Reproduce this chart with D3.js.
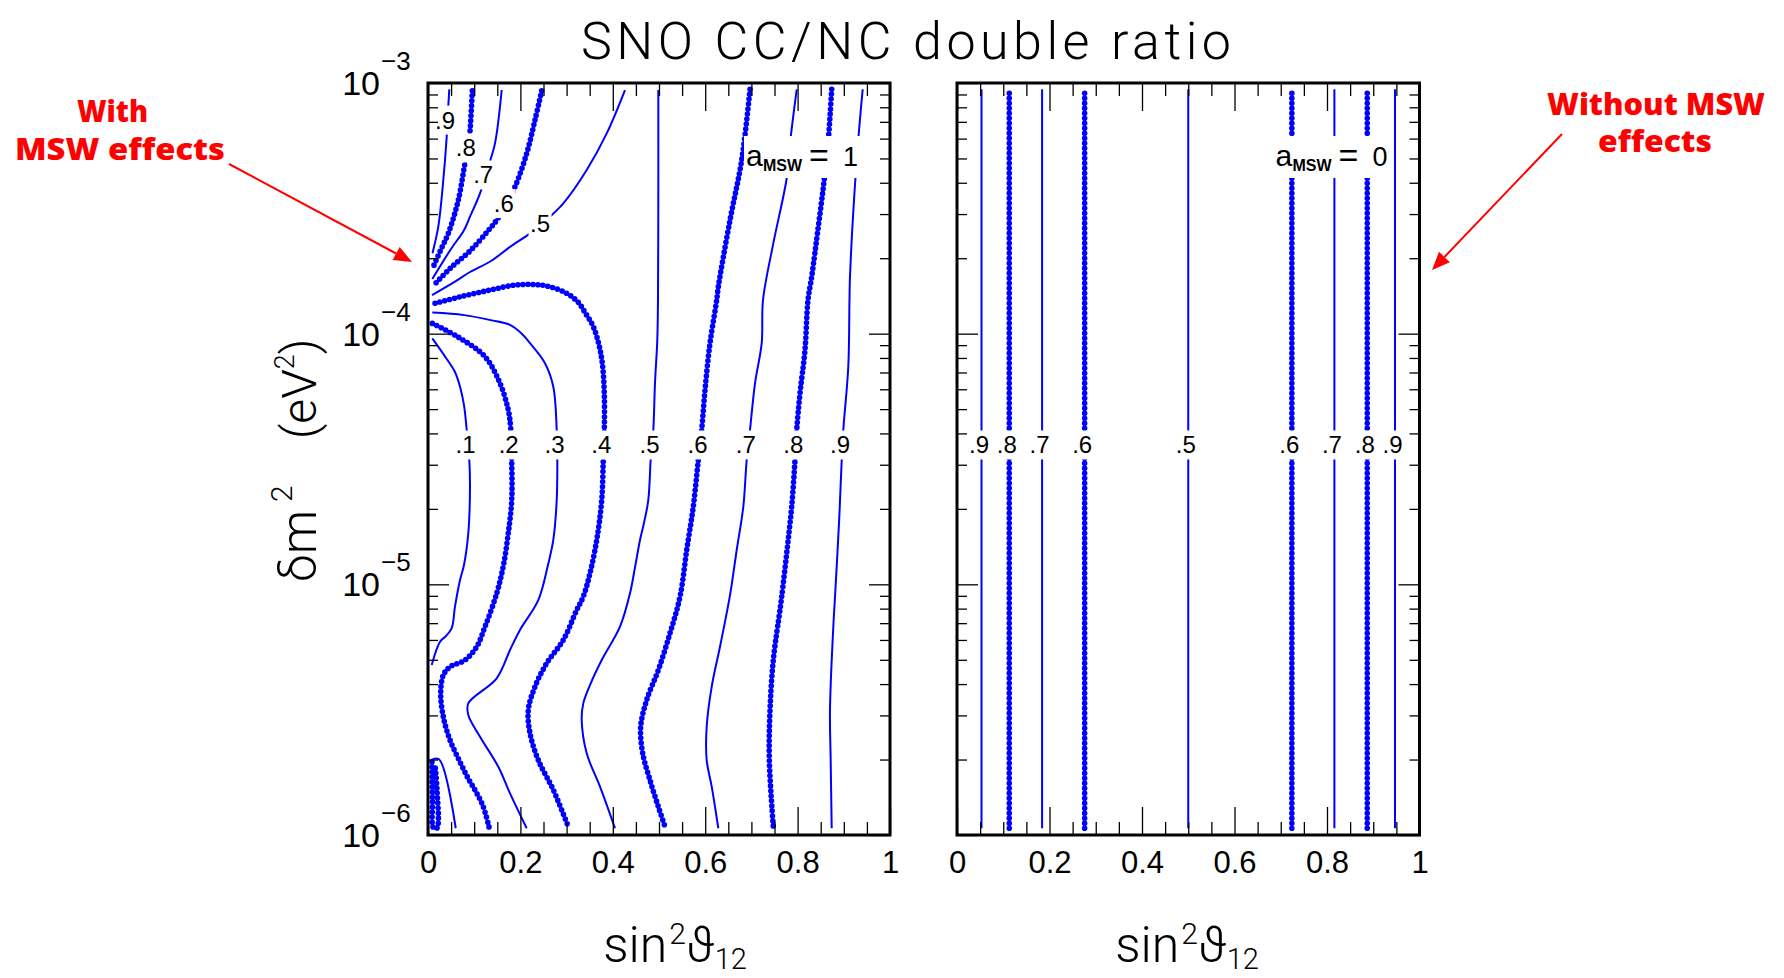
<!DOCTYPE html>
<html><head><meta charset="utf-8">
<script src="https://cdn.jsdelivr.net/npm/d3@7"></script>
<style>body{margin:0;background:#fff}svg{display:block}</style>
</head><body>
<svg id="chart" width="1784" height="978"></svg>
<script>
// ---------------- DATA (sin^2 theta12, log10 dm^2) ----------------
const c09fan = [[0.0461,-3.025],[0.0422,-3.148],[0.0405,-3.214],[0.0318,-3.414],[0.0223,-3.573],[0.0097,-3.679]];
const c08fan = [[0.0959,-3.031],[0.0909,-3.194],[0.0872,-3.261],[0.0801,-3.320],[0.0656,-3.467],[0.0439,-3.600],[0.0275,-3.666],[0.0115,-3.733]];
const c07fan = [[0.1595,-3.028],[0.1450,-3.241],[0.1305,-3.334],[0.1126,-3.440],[0.0909,-3.533],[0.0779,-3.587],[0.0498,-3.662],[0.0093,-3.782]];
const c06fan = [[0.2461,-3.031],[0.2316,-3.148],[0.2136,-3.281],[0.1883,-3.414],[0.1667,-3.491],[0.1487,-3.547],[0.1284,-3.593],[0.0909,-3.670],[0.0487,-3.738],[0.0130,-3.806]];
const c05fan = [[0.4264,-3.028],[0.3868,-3.201],[0.3435,-3.347],[0.2929,-3.480],[0.2532,-3.551],[0.2208,-3.600],[0.1775,-3.654],[0.1364,-3.710],[0.0909,-3.754],[0.0584,-3.792],[0.0087,-3.846]];
const c04 = [[0.0152,-3.879],[0.0693,-3.853],[0.1342,-3.826],[0.1883,-3.806],[0.2316,-3.804],[0.2641,-3.813],[0.3002,-3.839],[0.3247,-3.874],[0.3420,-3.922],[0.3578,-3.972],[0.3701,-4.045],[0.3777,-4.125],[0.3816,-4.238],[0.3816,-4.384],[0.3794,-4.504],[0.3760,-4.664],[0.3652,-4.823],[0.3506,-4.956],[0.3361,-5.049],[0.3219,-5.102],[0.2929,-5.222],[0.2569,-5.315],[0.2316,-5.408],[0.2171,-5.501],[0.2208,-5.594],[0.2387,-5.701],[0.2712,-5.820],[0.3037,-5.967]];
const c03 = [[0.0093,-3.916],[0.0779,-3.926],[0.1357,-3.946],[0.1775,-3.965],[0.2035,-4.001],[0.2208,-4.038],[0.2532,-4.118],[0.2712,-4.212],[0.2786,-4.384],[0.2799,-4.504],[0.2786,-4.664],[0.2712,-4.823],[0.2597,-4.923],[0.2387,-5.063],[0.1991,-5.182],[0.1775,-5.262],[0.1487,-5.375],[0.0872,-5.475],[0.0872,-5.521],[0.1126,-5.608],[0.1522,-5.728],[0.1775,-5.834],[0.2136,-5.973]];
const c02 = [[0.0093,-3.959],[0.0649,-4.013],[0.1234,-4.092],[0.1558,-4.198],[0.1738,-4.305],[0.1790,-4.378],[0.1812,-4.511],[0.1812,-4.664],[0.1738,-4.796],[0.1634,-4.923],[0.1487,-5.036],[0.1234,-5.169],[0.1054,-5.249],[0.0801,-5.302],[0.0476,-5.329],[0.0331,-5.362],[0.0275,-5.435],[0.0331,-5.528],[0.0476,-5.621],[0.0693,-5.709],[0.0866,-5.773],[0.1039,-5.828],[0.1190,-5.884],[0.1320,-5.968]];
const c02b = [[0.0087,-5.709],[0.0097,-5.860],[0.0119,-5.972],[0.0195,-5.972],[0.0195,-5.820],[0.0152,-5.721]];
const c01 = [[0.0093,-4.019],[0.0390,-4.097],[0.0584,-4.153],[0.0693,-4.212],[0.0779,-4.285],[0.0838,-4.384],[0.0894,-4.504],[0.0909,-4.611],[0.0872,-4.796],[0.0779,-4.923],[0.0693,-4.983],[0.0584,-5.089],[0.0513,-5.175],[0.0390,-5.206],[0.0260,-5.229],[0.0080,-5.322]];
const c01b = [[0.0058,-5.701],[0.0238,-5.698],[0.0600,-5.973]];
const c05 = [[0.4985,-3.028],[0.4985,-3.467],[0.4978,-3.866],[0.4963,-4.025],[0.4913,-4.198],[0.4877,-4.384],[0.4820,-4.504],[0.4768,-4.664],[0.4665,-4.763],[0.4589,-4.823],[0.4470,-4.943],[0.4372,-5.036],[0.4156,-5.169],[0.3760,-5.302],[0.3506,-5.402],[0.3361,-5.475],[0.3327,-5.541],[0.3435,-5.674],[0.3723,-5.807],[0.4048,-5.973]];
const c06 = [[0.6970,-3.025],[0.6790,-3.307],[0.6537,-3.547],[0.6284,-3.813],[0.6249,-3.866],[0.6104,-4.038],[0.5996,-4.225],[0.5924,-4.384],[0.5851,-4.504],[0.5742,-4.690],[0.5600,-4.863],[0.5455,-5.049],[0.5238,-5.195],[0.4985,-5.342],[0.4734,-5.461],[0.4604,-5.568],[0.4647,-5.674],[0.4805,-5.781],[0.4985,-5.887],[0.5130,-5.967]];
const c07 = [[0.7981,-3.025],[0.7835,-3.241],[0.7764,-3.380],[0.7474,-3.640],[0.7251,-3.866],[0.7223,-4.038],[0.7078,-4.198],[0.6970,-4.384],[0.6898,-4.504],[0.6825,-4.690],[0.6682,-4.863],[0.6537,-5.043],[0.6320,-5.249],[0.6141,-5.408],[0.6032,-5.568],[0.6032,-5.701],[0.6141,-5.807],[0.6284,-5.973]];
const c08 = [[0.8738,-3.025],[0.8665,-3.227],[0.8571,-3.394],[0.8448,-3.573],[0.8305,-3.773],[0.8225,-3.866],[0.8160,-4.065],[0.8052,-4.238],[0.7981,-4.384],[0.7944,-4.504],[0.7872,-4.690],[0.7764,-4.876],[0.7656,-5.049],[0.7619,-5.102],[0.7474,-5.302],[0.7403,-5.501],[0.7388,-5.701],[0.7474,-5.967]];
const c09 = [[0.9409,-3.025],[0.9279,-3.307],[0.9134,-3.773],[0.9123,-3.866],[0.9097,-4.132],[0.8989,-4.384],[0.8955,-4.504],[0.8903,-4.730],[0.8810,-5.049],[0.8773,-5.169],[0.8701,-5.501],[0.8716,-5.701],[0.8738,-5.973]];

// contour pieces (level, points), and which pieces carry labels
const leftContours = [
  {level:0.9, pts:c09fan, fanLabelL:-3.148},
  {level:0.8, pts:c08fan, fanLabelL:-3.259},
  {level:0.7, pts:c07fan, fanLabelL:-3.367},
  {level:0.6, pts:c06fan, fanLabelL:-3.481},
  {level:0.5, pts:c05fan, fanLabelL:-3.559},
  {level:0.4, pts:c04, row:true},
  {level:0.3, pts:c03, row:true},
  {level:0.2, pts:c02, row:true},
  {level:0.2, pts:c02b},
  {level:0.1, pts:c01, row:true},
  {level:0.1, pts:c01b},
  {level:0.5, pts:c05, row:true},
  {level:0.6, pts:c06, row:true},
  {level:0.7, pts:c07, row:true},
  {level:0.8, pts:c08, row:true},
  {level:0.9, pts:c09, row:true}
];

// no-MSW panel: vertical contours
const rightLevels = [0.9, 0.8, 0.7, 0.6, 0.5, 0.6, 0.7, 0.8, 0.9];
const rightS      = [0.053, 0.113, 0.184, 0.276, 0.500, 0.724, 0.816, 0.887, 0.947];
const gridL = [-5.973, -3.025];
const rowLabelL = -4.444;

// axes
const xMajorTicks = [0, 0.2, 0.4, 0.6, 0.8, 1];
const xTickLabels = ["0", "0.2", "0.4", "0.6", "0.8", "1"];
const xMinorTicks = [0.05,0.1,0.15,0.25,0.3,0.35,0.45,0.5,0.55,0.65,0.7,0.75,0.85,0.9,0.95];
const yMajorTicks = [1e-6, 1e-5, 1e-4, 1e-3];
const yExponents  = ["\u22126", "\u22125", "\u22124", "\u22123"];
const yMinorMult  = [2,3,4,5,6,7,8,9];

// ---------------- DRAW ----------------
const svg = d3.select("#chart");
const TOP = 83, BOT = 835;
const xL = d3.scaleLinear().domain([0,1]).range([428, 890]);
const xR = d3.scaleLinear().domain([0,1]).range([957, 1419.5]);
const y  = d3.scaleLog().domain([1e-6, 1e-3]).range([BOT, TOP]);
const yMinorTicks = yMajorTicks.slice(0,3).flatMap(d => yMinorMult.map(m => d*m));

const NUMFONT = "'Liberation Sans', Arial, sans-serif";
const LIGHT = "Roboto, 'Liberation Sans', sans-serif";

function makePanel(xs, id) {
  const [x0, x1] = xs.range();
  svg.append("clipPath").attr("id", "clip"+id).append("rect")
    .attr("x", x0).attr("y", TOP).attr("width", x1-x0).attr("height", BOT-TOP);
  const g = svg.append("g");
  return {
    xs, x0, x1,
    lines: g.append("g").attr("clip-path", `url(#clip${id})`),
    bg: g.append("g"),
    axes: g.append("g"),
    lab: g.append("g")
  };
}

function styleLine(sel, level) {
  const thick = Math.round(level*10) % 2 === 0;
  sel.attr("fill", "none").attr("stroke", "#0000ff").attr("stroke-linejoin", "round");
  if (thick) sel.attr("stroke-width", 5.6).attr("stroke-dasharray", "0 5").attr("stroke-linecap", "round");
  else sel.attr("stroke-width", 2);
}

function lineGen(xs) {
  return d3.line().x(d => xs(d[0])).y(d => y(Math.pow(10, d[1]))).curve(d3.curveCatmullRom.alpha(0.5));
}

function sAtL(pts, L) {
  for (let i = 0; i < pts.length-1; i++) {
    const a = pts[i], b = pts[i+1];
    if ((a[1]-L)*(b[1]-L) <= 0 && a[1] !== b[1]) {
      const t = (L - a[1])/(b[1]-a[1]);
      return a[0] + t*(b[0]-a[0]);
    }
  }
  return null;
}

function addLabel(p, txt, cx, cy) {
  const t = p.lab.append("text").attr("x", cx).attr("y", cy + 8.5)
    .attr("text-anchor", "middle").attr("font-family", NUMFONT).attr("font-size", 24)
    .attr("fill", "#000").text(txt);
  const b = t.node().getBBox();
  p.bg.append("rect").attr("x", b.x-1.5).attr("y", b.y-1).attr("width", b.width+3).attr("height", b.height+2).attr("fill", "#fff");
}

function drawAxes(p) {
  const xs = p.xs, a = p.axes;
  const mk = (axis, tr) => a.append("g").attr("transform", tr).call(axis)
    .call(s => s.select(".domain").remove())
    .call(s => s.selectAll(".tick line").attr("stroke", "#000").attr("stroke-width", 1.3))
    .call(s => s.selectAll(".tick text").remove());
  mk(d3.axisBottom(xs).tickValues(xMinorTicks).tickSize(-13), `translate(0,${BOT})`);
  mk(d3.axisBottom(xs).tickValues(xMajorTicks).tickSize(-28), `translate(0,${BOT})`);
  mk(d3.axisTop(xs).tickValues(xMinorTicks).tickSize(-13), `translate(0,${TOP})`);
  mk(d3.axisTop(xs).tickValues(xMajorTicks).tickSize(-28), `translate(0,${TOP})`);
  mk(d3.axisLeft(y).tickValues(yMinorTicks).tickSize(-10), `translate(${p.x0},0)`);
  mk(d3.axisLeft(y).tickValues(yMajorTicks).tickSize(-21), `translate(${p.x0},0)`);
  mk(d3.axisRight(y).tickValues(yMinorTicks).tickSize(-10), `translate(${p.x1},0)`);
  mk(d3.axisRight(y).tickValues(yMajorTicks).tickSize(-21), `translate(${p.x1},0)`);
  a.append("rect").attr("x", p.x0).attr("y", TOP).attr("width", p.x1-p.x0).attr("height", BOT-TOP)
    .attr("fill", "none").attr("stroke", "#000").attr("stroke-width", 3);
  // x tick labels
  const lab = a.append("g").attr("transform", `translate(0,${BOT})`)
    .call(d3.axisBottom(xs).tickValues(xMajorTicks).tickSize(0).tickPadding(16).tickFormat((d,i) => xTickLabels[i]));
  lab.select(".domain").remove();
  lab.selectAll("text").attr("font-family", NUMFONT).attr("font-size", 31).attr("fill", "#000");
}

function amswLabel(p, digit) {
  const R = p.x1, base = 166;
  const g = p.lab.append("g").attr("font-family", NUMFONT).attr("fill", "#000");
  g.append("text").attr("x", R-144).attr("y", base).attr("font-size", 30).text("a");
  g.append("text").attr("x", R-127).attr("y", base+5).attr("font-size", 16).attr("font-weight", "bold").text("MSW");
  g.append("text").attr("x", R-81).attr("y", base+1).attr("font-size", 34).text("=");
  g.append("text").attr("x", R-32).attr("y", base).attr("text-anchor", "end").attr("font-size", 27).text(digit);
  const b = g.node().getBBox();
  p.bg.append("rect").attr("x", b.x-2).attr("y", b.y).attr("width", b.width+4).attr("height", b.height+4).attr("fill", "#fff");
}

const fmtLevel = v => v.toFixed(1).slice(1);

// ---- left panel (with MSW)
const PL = makePanel(xL, "L");
const genL = lineGen(xL);
leftContours.forEach(c => {
  PL.lines.append("path").attr("d", genL(c.pts)).call(styleLine, c.level);
  if (c.row) {
    const s = sAtL(c.pts, rowLabelL);
    addLabel(PL, fmtLevel(c.level), xL(s) - 2.5, y(Math.pow(10, rowLabelL)));
  }
  if (c.fanLabelL !== undefined) {
    const s = sAtL(c.pts, c.fanLabelL);
    addLabel(PL, fmtLevel(c.level), xL(s) - 2.5, y(Math.pow(10, c.fanLabelL)));
  }
});
amswLabel(PL, "1");
drawAxes(PL);

// ---- right panel (without MSW)
const PR = makePanel(xR, "R");
const genR = lineGen(xR);
rightS.forEach((s, i) => {
  PR.lines.append("path").attr("d", genR([[s, gridL[0]], [s, gridL[1]]])).call(styleLine, rightLevels[i]);
  addLabel(PR, fmtLevel(rightLevels[i]), xR(s) - 2.5, y(Math.pow(10, rowLabelL)));
});
amswLabel(PR, "0");
drawAxes(PR);

// ---- y tick labels (left panel only)
const yl = svg.append("g").attr("font-family", NUMFONT).attr("fill", "#000");
yMajorTicks.forEach((v, i) => {
  yl.append("text").attr("x", 380).attr("y", y(v) + 12).attr("text-anchor", "end").attr("font-size", 34).text("10");
  yl.append("text").attr("x", 381).attr("y", y(v) - 13).attr("font-size", 26).text(yExponents[i]);
});

// ---- titles
svg.append("text").attr("x", 581).attr("y", 59).attr("font-family", LIGHT).attr("font-weight", 300)
  .attr("font-size", 52).attr("textLength", 650).attr("lengthAdjust", "spacing").attr("fill", "#000")
  .text("SNO CC/NC double ratio");

function xTitle(cx) {
  const t = svg.append("text").attr("x", cx).attr("y", 962).attr("text-anchor", "middle")
    .attr("font-family", LIGHT).attr("font-weight", 300).attr("fill", "#000").attr("font-size", 50);
  t.append("tspan").text("sin");
  t.append("tspan").attr("font-size", 30).attr("dy", -18).attr("dx", 2).text("2");
  t.append("tspan").attr("dy", 18).text("\u03D1");
  t.append("tspan").attr("font-size", 29).attr("dy", 7).text("12");
}
xTitle(675);
xTitle(1187);

// y title (rotated)
const yt = svg.append("g").attr("transform", "translate(316,582) rotate(-90)")
  .attr("font-family", LIGHT).attr("font-weight", 300).attr("fill", "#000");
yt.append("text").attr("x", 0).attr("y", 0).attr("font-size", 50).text("\u03B4m");
yt.append("text").attr("x", 80).attr("y", -24).attr("font-size", 30).text("2");
const yt2 = yt.append("text").attr("x", 143).attr("y", 0).attr("font-size", 48);
yt2.append("tspan").text("(eV");
yt2.append("tspan").attr("font-size", 27).attr("dy", -22).text("2");
yt2.append("tspan").attr("dy", 22).text(")");

// ---- red annotations
const RED = "#ff0000";
const AFONT = "'Open Sans', 'Liberation Sans', sans-serif";
function redText(txt, cx, by, len) {
  svg.append("text").attr("x", cx - len/2).attr("y", by).attr("font-family", AFONT).attr("font-weight", 800)
    .attr("font-size", 30).attr("fill", RED).attr("textLength", len).attr("lengthAdjust", "spacingAndGlyphs").text(txt);
}
redText("With", 112.5, 122, 71);
redText("MSW effects", 120, 160, 210);
redText("Without MSW", 1656, 115, 218);
redText("effects", 1655, 152, 114);

function arrow(x1, y1, x2, y2) {
  const dx = x2-x1, dy = y2-y1, len = Math.hypot(dx, dy), ux = dx/len, uy = dy/len;
  const hl = 18, hw = 7.5;
  const bx = x2 - ux*hl, by = y2 - uy*hl;
  svg.append("line").attr("x1", x1).attr("y1", y1).attr("x2", bx).attr("y2", by)
    .attr("stroke", RED).attr("stroke-width", 2);
  svg.append("path").attr("d", `M${x2},${y2}L${bx - uy*hw},${by + ux*hw}L${bx + uy*hw},${by - ux*hw}Z`).attr("fill", RED);
}
arrow(229, 164, 412, 262);
arrow(1562, 134, 1432, 270);
</script>
</body></html>
